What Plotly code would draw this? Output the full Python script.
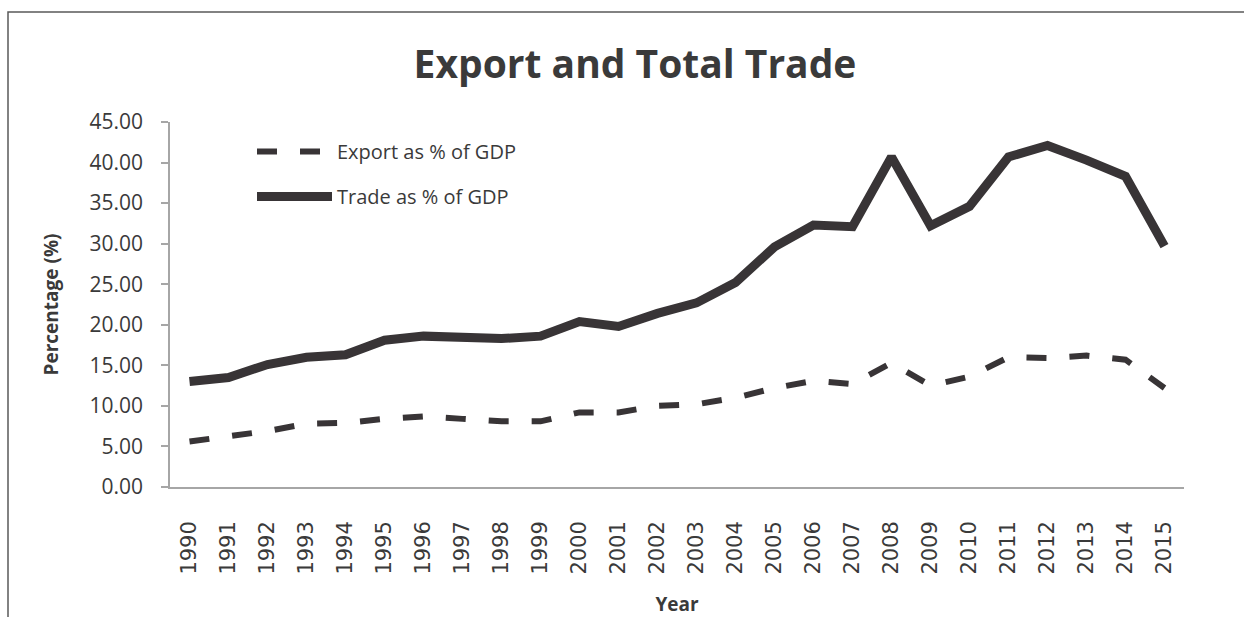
import plotly.graph_objects as go

years = [str(y) for y in range(1990, 2016)]
export_pct = [5.6, 6.2, 6.9, 7.8, 7.9, 8.4, 8.7, 8.4, 8.1, 8.1, 9.2, 9.2, 10.0, 10.2, 11.0,
              12.2, 13.1, 12.7, 15.3, 12.5, 13.6, 16.0, 15.9, 16.2, 15.7, 12.2]
trade_pct = [13.0, 13.5, 15.1, 16.0, 16.3, 18.1, 18.6, 18.5, 18.3, 18.6, 20.4, 19.8, 21.4, 22.7, 25.2,
             29.6, 32.3, 32.1, 40.7, 32.2, 34.6, 40.7, 42.1, 40.3, 38.3, 29.7]
y_ticks = [0, 5, 10, 15, 20, 25, 30, 35, 40, 45]

LINE = "#383436"
TEXT = "#3a3a3a"
AXIS = "#a6a6a6"

W, H = 1244, 617
ML, MR, MT, MB = 170, 60, 122, 130

fig = go.Figure()
fig.add_trace(go.Scatter(
    x=years, y=export_pct, mode="lines", name="Export as % of GDP",
    line=dict(color=LINE, width=6, dash="20px,23px"), legendgroup="a",
))
fig.add_trace(go.Scatter(
    x=years, y=trade_pct, mode="lines", name="Trade as % of GDP",
    line=dict(color=LINE, width=9), legendgroup="b",
))

pw = W - ML - MR
ph = H - MT - MB
def px_x(p):
    return (p - ML) / pw
def px_y(p):
    return (H - MB - p) / ph

fig.add_shape(type="path", xref="paper", yref="paper",
              path=f"M {px_x(8)} {px_y(H)} L {px_x(8)} {px_y(12)} L {px_x(W)} {px_y(12)}",
              line=dict(color="#595959", width=1.5))

fig.update_layout(
    width=W, height=H,
    margin=dict(l=ML, r=MR, t=MT, b=MB, autoexpand=False),
    paper_bgcolor="white", plot_bgcolor="white",
    font=dict(family="Open Sans", color=TEXT),
    title=dict(text="Export and Total Trade", x=(413 + 857) / 2 / W, xanchor="center",
               y=1 - 64 / H, yanchor="middle",
               font=dict(family="Open Sans", size=39, weight="bold", color=TEXT)),
    showlegend=True,
    legend=dict(x=px_x(252), y=px_y(132), xanchor="left", yanchor="top",
                bgcolor="rgba(0,0,0,0)", font=dict(family="Open Sans", size=20, color=TEXT),
                traceorder="grouped", tracegroupgap=16, itemwidth=75),
    xaxis=dict(type="category", range=[-0.5, 25.5], automargin=False, showgrid=False,
               showline=True, linecolor=AXIS, linewidth=1.5,
               ticks="", tickangle=-90, ticklabelstandoff=24,
               tickfont=dict(family="DejaVu Sans", size=21, color=TEXT),
               title=dict(text="Year", font=dict(family="Open Sans", size=19, weight="bold", color=TEXT),
                          standoff=30)),
    yaxis=dict(range=[0, 45], tickvals=y_ticks, tickformat=".2f", showgrid=False, zeroline=False,
               automargin=False,
               showline=True, linecolor=AXIS, linewidth=1.5, ticks="outside", ticklen=7,
               tickcolor=AXIS, tickwidth=1.5, ticklabelstandoff=14,
               tickfont=dict(family="Open Sans", size=21, color=TEXT),
               title=dict(text="Percentage (%)", font=dict(family="Open Sans", size=19, weight="bold", color=TEXT),
                          standoff=26)),
)

fig.write_html("out.html")
